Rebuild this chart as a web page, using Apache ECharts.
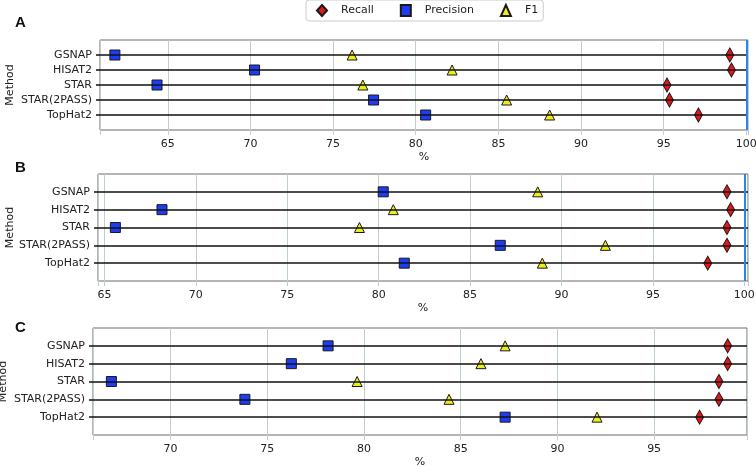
<!DOCTYPE html>
<html>
<head>
<meta charset="utf-8">
<script src="https://cdn.jsdelivr.net/npm/echarts@6/dist/echarts.min.js"></script>
<style>html,body{margin:0;padding:0;background:#fff;}#c{width:756px;height:466px;}</style>
</head>
<body>
<div id="c"></div>
<script>
const methods = ['GSNAP', 'HISAT2', 'STAR', 'STAR(2PASS)', 'TopHat2'];
const xTicksStep = 5;

const recallA = [99.0, 99.1, 95.2, 95.35, 97.1];
const precisionA = [61.8, 70.25, 64.35, 77.45, 80.6];
const f1A = [76.15, 82.2, 76.8, 85.5, 88.1];

const recallB = [99.05, 99.25, 99.05, 99.05, 98.0];
const precisionB = [80.25, 68.15, 65.6, 86.65, 81.4];
const f1B = [88.7, 80.8, 78.95, 92.4, 88.95];

const recallC = [98.8, 98.8, 98.35, 98.35, 97.35];
const precisionC = [78.15, 76.25, 66.95, 73.85, 87.3];
const f1C = [87.3, 86.05, 79.65, 84.4, 92.05];

const panels = [
  {label: 'A', recall: recallA, precision: precisionA, f1: f1A, min: 60.9, max: 100.1, refLine: 100,
   grid: {left: 100, top: 40, right: 8, height: 90}, nameGap: 84, labelTop: 15},
  {label: 'B', recall: recallB, precision: precisionB, f1: f1B, min: 64.65, max: 100.2, refLine: 100,
   grid: {left: 98, top: 174, right: 8, height: 107}, nameGap: 82, labelTop: 160},
  {label: 'C', recall: recallC, precision: precisionC, f1: f1C, min: 66.0, max: 99.8, refLine: null,
   grid: {left: 93, top: 328, right: 9, height: 107}, nameGap: 84, labelTop: 320}
];

const FONT = 'DejaVu Sans';
const yData = [' '].concat(methods, ['  ']);
const inner = (i) => i >= 1 && i <= methods.length;

const styles = {
  Recall: {symbol: 'diamond', size: [8, 14], color: '#e3161a'},
  Precision: {symbol: 'rect', size: [10, 10], color: '#1f3cf5'},
  F1: {symbol: 'triangle', size: [10, 10], color: '#eded1c'}
};

const grids = [], xAxes = [], yAxes = [], series = [], graphics = [];
panels.forEach((p, k) => {
  grids.push(Object.assign({show: true, borderColor: '#6a6a6a', borderWidth: 1, backgroundColor: 'transparent',
    containLabel: false, outerBoundsMode: 'none'}, p.grid));
  xAxes.push({
    type: 'value', gridIndex: k, min: p.min, max: p.max,
    minInterval: xTicksStep, maxInterval: xTicksStep,
    name: '%', nameLocation: 'middle', nameGap: 22, nameMoveOverlap: false,
    nameTextStyle: {fontFamily: FONT, fontSize: 11, color: '#222'},
    axisLine: {show: false},
    axisTick: {show: true, length: 5, lineStyle: {color: '#bfcfcf', width: 1}},
    axisLabel: {fontFamily: FONT, fontSize: 11, color: '#222', margin: 9, hideOverlap: false,
      formatter: v => (Math.abs(v / xTicksStep - Math.round(v / xTicksStep)) < 1e-6 ? String(Math.round(v)) : '')},
    splitLine: {show: true, lineStyle: {color: '#bfcfcf', width: 1}}
  });
  yAxes.push({
    type: 'category', gridIndex: k, data: yData, inverse: true, boundaryGap: false,
    name: 'Method', nameLocation: 'middle', nameRotate: 90, nameGap: p.nameGap, nameMoveOverlap: false,
    nameTextStyle: {fontFamily: FONT, fontSize: 11, color: '#222'},
    axisLine: {show: false},
    axisTick: {show: true, length: 4, interval: inner, lineStyle: {color: '#111', width: 1.5}},
    axisLabel: {fontFamily: FONT, fontSize: 11, color: '#222', margin: 8, interval: 0},
    splitLine: {show: false}
  });
  [['Recall', p.recall], ['Precision', p.precision], ['F1', p.f1]].forEach(([name, vals]) => {
    const s = styles[name];
    series.push({
      type: 'scatter', name: name, xAxisIndex: k, yAxisIndex: k, z: 2,
      symbol: s.symbol, symbolSize: s.size,
      itemStyle: {color: s.color, borderColor: '#1a1a1a', borderWidth: 1, opacity: 1},
      data: vals.map((v, i) => [v, methods[i]])
    });
  });
  const mlData = methods.map(m => ({yAxis: m, lineStyle: {color: '#111', width: 1.5, type: 'solid'}}));
  if (p.refLine !== null) {
    mlData.push({xAxis: p.refLine, lineStyle: {color: '#2a84f0', width: 2, type: 'solid'}});
  }
  series.push({
    type: 'scatter', name: 'rows' + k, xAxisIndex: k, yAxisIndex: k, z: 5, data: [],
    markLine: {silent: true, symbol: ['none', 'none'], label: {show: false}, animation: false, data: mlData}
  });
  graphics.push({type: 'text', left: 15, top: p.labelTop,
    style: {text: p.label, font: 'bold 15px "Liberation Sans"', fill: '#111'}});
});

const chart = echarts.init(document.getElementById('c'), null, {renderer: 'canvas'});
chart.setOption({
  animation: false,
  backgroundColor: '#fff',
  legend: {
    data: [
      {name: 'Recall', icon: 'diamond'},
      {name: 'Precision', icon: 'rect'},
      {name: 'F1', icon: 'triangle'}
    ],
    left: 306, top: 0, orient: 'horizontal',
    padding: [4, 5, 4, 10], itemGap: 26, itemWidth: 10, itemHeight: 11,
    borderColor: '#cccccc', borderWidth: 1, borderRadius: 3,
    textStyle: {fontFamily: FONT, fontSize: 11, color: '#222', padding: [0, 0, 0, 9]},
    selectedMode: false
  },
  grid: grids, xAxis: xAxes, yAxis: yAxes, series: series, graphic: graphics
});
</script>
</body>
</html>
